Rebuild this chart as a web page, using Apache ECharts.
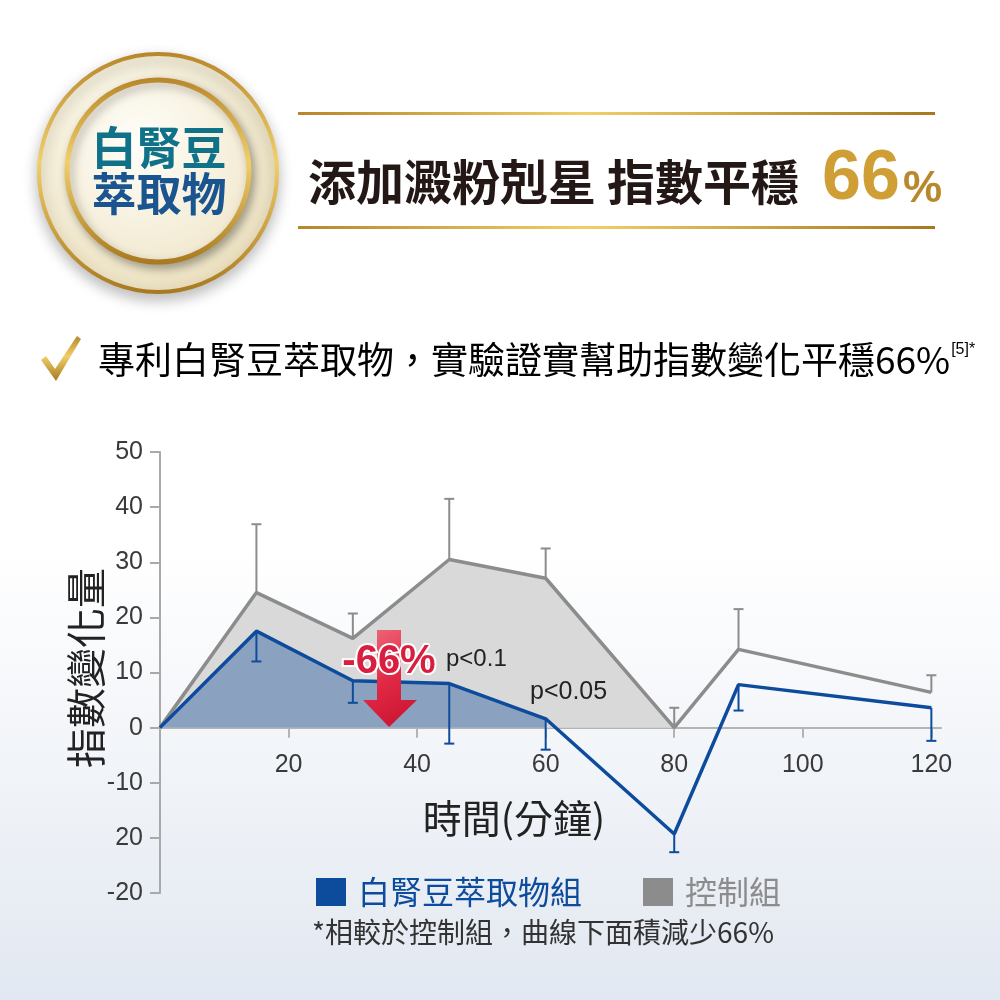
<!DOCTYPE html>
<html lang="zh-Hant">
<head>
  <meta charset="UTF-8">
  <title>指數變化量</title>
  <style>
  html, body { margin: 0; padding: 0; }
  #main { width: 1000px; height: 1000px; }
  </style>
  <script src="https://cdn.jsdelivr.net/npm/echarts@6/dist/echarts.min.js"></script>
</head>
<body>
  <div id="main"></div>
  <script>
  // data
  var times = [0, 15, 30, 45, 60, 80, 90, 120];
  var control = [0, 24.5, 16.2, 30.5, 27.1, 0, 14.2, 6.4];
  var extract = [0, 17.5, 8.5, 8.0, 1.6, -19.3, 7.8, 3.6];
  var controlErrTop = [null, 36.9, 20.7, 41.5, 32.5, 3.6, 21.5, 9.5];
  var extractErrLow = [null, 12, 4.5, -2.9, -4, -22.6, 3.1, -2.4];
  var xTicks = [20, 40, 60, 80, 100, 120];
  var yTickValues = [-30, -20, -10, 0, 10, 20, 30, 40, 50];
  var yTickLabels = ['-20', '20', '-10', '0', '10', '20', '30', '40', '50'];

  var CJK = '"Noto Sans CJK TC", "Noto Sans CJK SC", sans-serif';
  var LAT = '"Liberation Sans", Arial, sans-serif';
  var BLUE = '#0d4b9c';
  var GRAY = '#8c8c8c';

  var Y_MIN = -30, Y_MAX = 50;
  var GRID = { left: 160, right: 59, top: 452, bottom: 107 };
  // move the x axis up onto the zero line
  var plotH = 1000 - GRID.top - GRID.bottom;
  var zeroOffset = -plotH * (0 - Y_MIN) / (Y_MAX - Y_MIN);

  function pairs(xs, ys, upto) {
    var out = [];
    for (var i = 0; i < upto; i++) out.push([xs[i], ys[i]]);
    return out;
  }
  function errData(ys, ends) {
    var out = [];
    for (var i = 0; i < times.length; i++) {
      if (ends[i] != null) out.push([times[i], ys[i], ends[i]]);
    }
    return out;
  }
  function errRender(color) {
    return function (params, api) {
      var p0 = api.coord([api.value(0), api.value(1)]);
      var p1 = api.coord([api.value(0), api.value(2)]);
      var st = { stroke: color, lineWidth: 2 };
      return {
        type: 'group',
        children: [
          { type: 'line', shape: { x1: p0[0], y1: p0[1], x2: p1[0], y2: p1[1] }, style: st },
          { type: 'line', shape: { x1: p1[0] - 5, y1: p1[1], x2: p1[0] + 5, y2: p1[1] }, style: st }
        ]
      };
    };
  }
  function gold(dir) {
    return {
      type: 'linear', x: 0, y: 0, x2: dir ? 1 : 0, y2: dir ? 0 : 1,
      colorStops: [
        { offset: 0, color: '#b8862a' },
        { offset: 0.45, color: '#f0cf6a' },
        { offset: 1, color: '#a8781e' }
      ]
    };
  }

  var chart = echarts.init(document.getElementById('main'));
  chart.setOption({
    animation: false,
    backgroundColor: {
      type: 'linear', x: 0, y: 0, x2: 0, y2: 1,
      colorStops: [
        { offset: 0, color: '#ffffff' },
        { offset: 0.55, color: '#ffffff' },
        { offset: 1, color: '#e2e8f1' }
      ]
    },
    grid: GRID,
    legend: {
      left: 311, top: 871,
      icon: 'rect',
      itemWidth: 30, itemHeight: 28, itemGap: 61,
      textStyle: { fontSize: 32, fontFamily: CJK, padding: [0, 0, 0, 7] },
      data: [
        { name: '白腎豆萃取物組', textStyle: { color: BLUE } },
        { name: '控制組', textStyle: { color: GRAY } }
      ]
    },
    xAxis: {
      type: 'value', min: 0, max: 121.5,
      position: 'bottom',
      offset: zeroOffset,
      axisLine: { onZero: false, lineStyle: { color: '#b4b4b4', width: 2 } },
      axisTick: { show: true, length: 10, customValues: xTicks, lineStyle: { color: '#b4b4b4', width: 2 } },
      axisLabel: { customValues: xTicks, margin: 25, fontSize: 25, fontFamily: LAT, color: '#3a3a3a' },
      splitLine: { show: false }
    },
    yAxis: {
      type: 'value', min: Y_MIN, max: Y_MAX, interval: 10,
      axisLine: { show: true, lineStyle: { color: '#a9a9a9', width: 2 } },
      axisTick: { show: true, length: 10, lineStyle: { color: '#a9a9a9', width: 2 } },
      axisLabel: {
        margin: 17, fontSize: 25, fontFamily: LAT, color: '#3a3a3a',
        formatter: function (v) {
          var i = yTickValues.indexOf(v);
          return i < 0 ? '' : yTickLabels[i];
        }
      },
      splitLine: { show: false }
    },
    series: [
      {
        name: 'control-area', type: 'line', symbol: 'none', z: 1,
        data: pairs(times, control, 6),
        lineStyle: { width: 0 },
        areaStyle: { color: '#d9d9da', opacity: 1 }
      },
      {
        name: 'extract-area', type: 'line', symbol: 'none', z: 1,
        data: pairs(times, extract, 5),
        lineStyle: { width: 0 },
        areaStyle: { color: '#8aa2c0', opacity: 1 }
      },
      {
        name: 'control-err', type: 'custom', z: 3,
        renderItem: errRender(GRAY),
        encode: { x: 0, y: 1 },
        data: errData(control, controlErrTop)
      },
      {
        name: 'extract-err', type: 'custom', z: 3,
        renderItem: errRender(BLUE),
        encode: { x: 0, y: 1 },
        data: errData(extract, extractErrLow)
      },
      {
        name: '控制組', type: 'line', symbol: 'none', z: 4,
        data: pairs(times, control, times.length),
        itemStyle: { color: GRAY },
        lineStyle: { color: GRAY, width: 3.5 }
      },
      {
        name: '白腎豆萃取物組', type: 'line', symbol: 'none', z: 5,
        data: pairs(times, extract, times.length),
        itemStyle: { color: BLUE },
        lineStyle: { color: BLUE, width: 3.5 }
      }
    ],
    graphic: [
      // badge
      {
        type: 'circle', shape: { cx: 158, cy: 173, r: 119 },
        style: {
          fill: {
            type: 'radial', x: 0.4, y: 0.35, r: 0.75,
            colorStops: [{ offset: 0, color: '#fffdf4' }, { offset: 1, color: '#e8dcb8' }]
          },
          stroke: gold(false), lineWidth: 4,
          shadowBlur: 14, shadowColor: 'rgba(0,0,0,0.25)', shadowOffsetY: 6
        }
      },
      {
        type: 'circle', shape: { cx: 158, cy: 171, r: 91 },
        style: {
          fill: {
            type: 'radial', x: 0.4, y: 0.35, r: 0.8,
            colorStops: [{ offset: 0, color: '#fffef9' }, { offset: 1, color: '#efe5c8' }]
          },
          stroke: gold(false), lineWidth: 5,
          shadowBlur: 10, shadowColor: 'rgba(0,0,0,0.3)', shadowOffsetX: 3, shadowOffsetY: 4
        }
      },
      {
        type: 'text', x: 159, y: 148,
        style: { text: '白腎豆', font: 'bold 45px ' + CJK, align: 'center', verticalAlign: 'middle', fill: '#0f7289' }
      },
      {
        type: 'text', x: 159, y: 194,
        style: { text: '萃取物', font: 'bold 45px ' + CJK, align: 'center', verticalAlign: 'middle', fill: '#1b5590' }
      },
      // title
      { type: 'rect', shape: { x: 298, y: 112, width: 637, height: 3 }, style: { fill: gold(true) } },
      { type: 'rect', shape: { x: 298, y: 226, width: 637, height: 3 }, style: { fill: gold(true) } },
      {
        type: 'text', x: 308, y: 182,
        style: { text: '添加澱粉剋星 指數平穩', font: 'bold 48px ' + CJK, fill: '#231815', verticalAlign: 'middle' }
      },
      {
        type: 'text', x: 822, y: 180,
        style: { text: '66', font: 'bold 70px ' + LAT, verticalAlign: 'middle', fill: '#cf9f36' }
      },
      {
        type: 'text', x: 903, y: 190,
        style: { text: '%', font: 'bold 44px ' + LAT, verticalAlign: 'middle', fill: '#b8882c' }
      },
      // check mark and subtitle
      {
        type: 'polygon',
        shape: { points: [[41, 360], [46, 356], [55, 369], [77, 336], [81, 339], [56, 381]] },
        style: { fill: gold(false) }
      },
      {
        type: 'text', x: 98, y: 360,
        style: {
          text: '{a|專利白腎豆萃取物，實驗證實幫助指數變化平穩66%}{s|[5]*}',
          verticalAlign: 'middle',
          rich: {
            a: { fontSize: 37, fontFamily: CJK, color: '#2a2a2a' },
            s: { fontSize: 16, fontFamily: LAT, color: '#2a2a2a', verticalAlign: 'top', padding: [0, 0, 14, 1] }
          }
        }
      },
      // axis names
      {
        type: 'text', x: 86, y: 668, rotation: Math.PI / 2,
        style: { text: '指數變化量', font: '40px ' + CJK, fill: '#222', align: 'center', verticalAlign: 'middle' }
      },
      {
        type: 'text', x: 514, y: 818,
        style: { text: '時間(分鐘)', font: '39px ' + CJK, fill: '#222', align: 'center', verticalAlign: 'middle' }
      },
      // annotations
      {
        type: 'polygon', z: 100,
        shape: { points: [[377, 630], [401, 630], [401, 700], [417, 700], [389, 727], [363, 700], [377, 700]] },
        style: {
          fill: { type: 'linear', x: 0, y: 0, x2: 1, y2: 1,
            colorStops: [{ offset: 0, color: '#ef6a7c' }, { offset: 0.5, color: '#e02a45' }, { offset: 1, color: '#c8102e' }] }
        }
      },
      {
        type: 'text', x: 389, y: 662, z: 101,
        style: {
          text: '-66%', font: 'bold 40px ' + LAT, align: 'center', verticalAlign: 'middle',
          fill: '#d91f40', stroke: '#ffffff', lineWidth: 4
        }
      },
      {
        type: 'text', x: 446, y: 659, z: 101,
        style: { text: 'p<0.1', font: '24px ' + LAT, fill: '#222', verticalAlign: 'middle' }
      },
      {
        type: 'text', x: 530, y: 692, z: 101,
        style: { text: 'p<0.05', font: '25px ' + LAT, fill: '#222', verticalAlign: 'middle' }
      },
      // footnote
      {
        type: 'text', x: 312, y: 932,
        style: { text: '*相較於控制組，曲線下面積減少66%', font: '28px ' + CJK, fill: '#333', verticalAlign: 'middle' }
      }
    ]
  });
  </script>
</body>
</html>
